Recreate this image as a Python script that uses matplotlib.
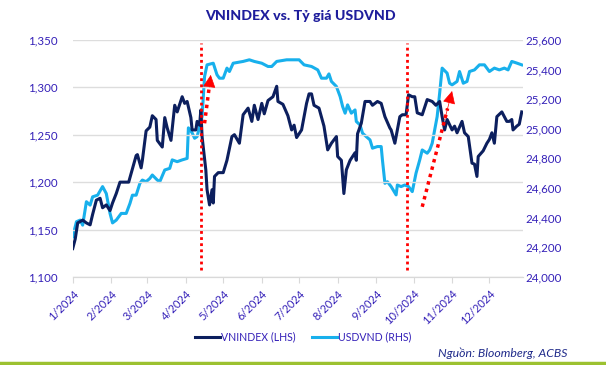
import numpy as np
import pandas as pd
import matplotlib
matplotlib.use('Agg')
from matplotlib import pyplot as plt
from matplotlib.ticker import FuncFormatter

plt.rcParams['font.family'] = ['Lato', 'DejaVu Sans']

# days since 1/1/2024 and closing values
vn_days = [0, 2, 4, 8, 11, 14, 16, 19, 22, 24, 27, 30, 32, 35, 38, 42, 45, 48, 51, 52,
           55, 56, 59, 62, 64, 67, 68, 72, 74, 76, 79, 82, 84, 88, 90, 92, 95, 96, 99, 100,
           102, 103, 104, 107, 108, 110, 112, 113, 114, 117, 121, 124, 128, 130, 134, 137, 141, 144, 146, 149,
           152, 154, 157, 161, 164, 165, 169, 173, 176, 178, 180, 184, 188, 190, 192, 194, 198, 202, 205, 208,
           212, 213, 216, 218, 220, 223, 227, 228, 229, 232, 235, 239, 241, 245, 248, 251, 255, 256, 259, 263,
           265, 268, 270, 273, 275, 277, 281, 285, 289, 292, 295, 297, 299, 301, 305, 307, 309, 313, 315, 318,
           321, 323, 325, 326, 330, 333, 335, 337, 339, 341, 345, 349, 351, 353, 354, 357, 359, 361]
vnindex = [1130, 1140, 1157, 1160, 1157, 1155, 1166, 1181, 1183, 1173, 1176, 1170, 1178, 1188, 1200, 1200, 1200, 1214, 1228, 1229,
           1215, 1223, 1254, 1258, 1270, 1266, 1244, 1237, 1268, 1257, 1244, 1281, 1274, 1290, 1283, 1285, 1268, 1255, 1255, 1264,
           1260, 1276, 1248, 1213, 1192, 1176, 1192, 1178, 1206, 1210, 1210, 1223, 1248, 1250, 1241, 1271, 1278, 1264, 1281, 1266,
           1283, 1272, 1286, 1290, 1301, 1285, 1282, 1270, 1255, 1260, 1247, 1255, 1283, 1293, 1293, 1281, 1278, 1259, 1234, 1241,
           1248, 1227, 1223, 1188, 1213, 1223, 1231, 1223, 1251, 1262, 1285, 1285, 1281, 1285, 1283, 1269, 1257, 1255, 1241, 1269,
           1271, 1271, 1292, 1290, 1290, 1273, 1271, 1287, 1285, 1281, 1285, 1269, 1255, 1266, 1255, 1259, 1252, 1264, 1252, 1248,
           1220, 1219, 1206, 1227, 1233, 1241, 1245, 1252, 1241, 1269, 1274, 1264, 1264, 1266, 1255, 1259, 1261, 1274]

fx_days = [0, 3, 6, 8, 11, 14, 16, 20, 24, 27, 30, 32, 35, 39, 43, 46, 48, 51, 54, 56,
           59, 62, 64, 68, 70, 74, 78, 80, 84, 88, 92, 93, 96, 98, 100, 104, 106, 108, 113, 116,
           118, 121, 124, 126, 129, 137, 142, 146, 152, 157, 160, 164, 172, 178, 182, 186, 192, 197, 200, 204,
           206, 208, 212, 215, 217, 219, 221, 224, 227, 228, 231, 233, 236, 239, 241, 245, 248, 249, 251, 253,
           256, 260, 261, 264, 267, 270, 273, 276, 279, 281, 285, 287, 289, 293, 295, 297, 301, 303, 305, 309,
           311, 314, 317, 319, 323, 327, 331, 335, 339, 343, 347, 350, 353, 357, 361]
usdvnd = [24272, 24373, 24384, 24350, 24508, 24485, 24541, 24552, 24610, 24563, 24429, 24365, 24384, 24429, 24429, 24496, 24552, 24552, 24632, 24654,
          24643, 24665, 24688, 24654, 24643, 24722, 24733, 24790, 24778, 24790, 24800, 25006, 24972, 24936, 24947, 25082, 25352, 25431, 25442, 25364,
          25341, 25341, 25409, 25386, 25442, 25454, 25465, 25454, 25442, 25420, 25420, 25454, 25465, 25465, 25465, 25431, 25420, 25397, 25341, 25341,
          25370, 25319, 25285, 25217, 25150, 25105, 25161, 25105, 25127, 25049, 25026, 24970, 24947, 24925, 24869, 24880, 24880, 24790, 24632, 24643,
          24610, 24554, 24621, 24610, 24621, 24610, 24576, 24700, 24790, 24857, 24835, 24857, 24902, 25082, 25240, 25409, 25375, 25307, 25296, 25319,
          25386, 25307, 25319, 25386, 25397, 25431, 25431, 25386, 25409, 25397, 25409, 25397, 25454, 25443, 25431]

start = pd.Timestamp('2024-01-01')
vn_dates = start + pd.to_timedelta(vn_days, unit='D')
fx_dates = start + pd.to_timedelta(fx_days, unit='D')

# event markers (day offsets) and annotation arrows (day, VNINDEX level)
event_days = [103, 269]
arrow_lines = [((106, 1262), (111, 1313)), ((281, 1174), (305, 1296))]

NAVY = '#0c1f5e'
SKY = '#18b0ec'
TXT = '#3420b8'

def day(d):
    return start + pd.Timedelta(days=d)

fig = plt.figure(figsize=(6.06, 3.65), dpi=100)
ax = fig.add_axes([0.12, 0.241, 0.743, 0.65])
ax2 = ax.twinx()

l1, = ax.plot(vn_dates, vnindex, color=NAVY, lw=2.2, label='VNINDEX (LHS)', zorder=3)
l2, = ax2.plot(fx_dates, usdvnd, color=SKY, lw=2.2, label='USDVND (RHS)', zorder=2)

ax.set_ylim(1100, 1350)
ax.set_yticks(np.arange(1100, 1351, 50))
ax2.set_ylim(24000, 25600)
ax2.set_yticks(np.arange(24000, 25601, 200))
fmt = FuncFormatter(lambda v, p: '{:,.0f}'.format(v))
ax.yaxis.set_major_formatter(fmt)
ax2.yaxis.set_major_formatter(fmt)

ax.set_xlim(start, day(362))
months = pd.date_range('2024-01-01', '2024-12-01', freq='MS')
ax.set_xticks(months)
ax.set_xticklabels(['%d/2024' % m.month for m in months], rotation=45, ha='right',
                   rotation_mode='anchor', color=TXT, fontsize=8)

ax.grid(axis='y', color='#dddddd', lw=1)
ax.set_axisbelow(True)
for a in (ax, ax2):
    for s in ('left', 'right', 'top'):
        a.spines[s].set_visible(False)
    a.spines['bottom'].set_color('#d9d9d9')
ax.tick_params(axis='y', length=0, labelcolor=TXT, labelsize=8.3, pad=11)
ax2.tick_params(axis='y', length=0, labelcolor=TXT, labelsize=8.3, pad=2)
ax.tick_params(axis='x', length=4, color='#d9d9d9', pad=4)

# navy line on top of the sky blue one
ax.set_zorder(ax2.get_zorder() + 1)
ax.patch.set_visible(False)

for d in event_days:
    ax.axvline(day(d), ymin=0.03, ymax=0.985, color='red', ls=(0, (1, 1.2)), lw=2, zorder=4)

for (d0, v0), (d1, v1) in arrow_lines:
    # dotted shaft, then a solid head at the tip
    ax.plot([day(d0), day(d1 - (d1 - d0) * 0.15)], [v0, v1 - (v1 - v0) * 0.15],
            color='red', lw=2.5, ls=(0, (1, 1.2)), zorder=5)
    ax.annotate('', xy=(day(d1), v1),
                xytext=(day(d1 - (d1 - d0) * 0.25), v1 - (v1 - v0) * 0.25),
                arrowprops=dict(arrowstyle='-|>', color='red', lw=0.5,
                                mutation_scale=20, shrinkA=0, shrinkB=0),
                zorder=5)

fig.text(0.496, 0.955, 'VNINDEX vs. Tỷ giá USDVND', ha='center', va='center',
         fontsize=10.2, fontweight='black', color='#1e1d9c')

fig.legend(handles=[l1, l2], loc='center', bbox_to_anchor=(0.5, 0.077), ncol=2,
           frameon=False, fontsize=7.6, handlelength=2.4, handletextpad=0.1,
           columnspacing=1.5, labelcolor=TXT)

fig.text(0.937, 0.033, 'Nguồn: Bloomberg, ACBS', ha='right', va='center',
         fontsize=8.8, style='italic', color='#1f2a8a')
fig.add_artist(plt.Line2D([0, 1], [0.006, 0.006], color='#9cc130', lw=2.5))

fig.savefig('out.png', dpi=100)
